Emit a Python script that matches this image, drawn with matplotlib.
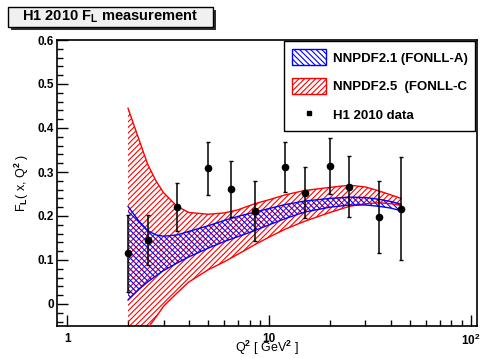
import matplotlib
matplotlib.use("Agg")
import matplotlib.pyplot as plt
from matplotlib.patches import Rectangle, Patch
from matplotlib.lines import Line2D
from matplotlib.ticker import FixedLocator, NullFormatter, MultipleLocator

# H1 2010 F_L data points
q2_data = [2.0, 2.5, 3.5, 5.0, 6.5, 8.5, 12.0, 15.0, 20.0, 25.0, 35.0, 45.0]
fl_data = [0.115, 0.145, 0.220, 0.308, 0.261, 0.211, 0.312, 0.253, 0.314, 0.267, 0.198, 0.217]
fl_err = [0.087, 0.057, 0.055, 0.060, 0.064, 0.068, 0.057, 0.058, 0.063, 0.069, 0.082, 0.117]

# Theory bands on a common Q^2 grid
q2_band = [2.0, 2.25, 2.5, 2.75, 3.0, 3.5, 4.0, 5.0, 6.0, 7.0, 8.5, 10.0,
           12.0, 15.0, 20.0, 25.0, 30.0, 35.0, 40.0, 45.0]
nn21_up = [0.222, 0.190, 0.167, 0.157, 0.154, 0.157, 0.165, 0.178, 0.190, 0.199,
           0.209, 0.217, 0.226, 0.234, 0.240, 0.243, 0.242, 0.238, 0.233, 0.227]
nn21_lo = [0.009, 0.032, 0.050, 0.064, 0.076, 0.093, 0.107, 0.127, 0.142, 0.153,
           0.167, 0.180, 0.194, 0.209, 0.220, 0.225, 0.225, 0.222, 0.218, 0.212]
nn25_up = [0.445, 0.378, 0.318, 0.280, 0.253, 0.222, 0.208, 0.204, 0.207, 0.214,
           0.228, 0.237, 0.248, 0.258, 0.265, 0.270, 0.266, 0.257, 0.248, 0.240]
nn25_lo = [-0.140, -0.090, -0.055, -0.030, -0.005, 0.025, 0.050, 0.078, 0.096, 0.113,
           0.135, 0.152, 0.170, 0.188, 0.208, 0.222, 0.228, 0.230, 0.228, 0.224]

labels = ["NNPDF2.1 (FONLL-A)", "NNPDF2.5  (FONLL-C", "H1 2010 data"]

plt.rcParams["font.family"] = ["Liberation Sans", "DejaVu Sans"]
plt.rcParams["font.weight"] = "bold"
plt.rcParams["mathtext.fontset"] = "custom"
plt.rcParams["mathtext.rm"] = "Liberation Sans:bold"
plt.rcParams["mathtext.bf"] = "Liberation Sans:bold"
plt.rcParams["mathtext.it"] = "Liberation Sans:bold"
plt.rcParams["hatch.linewidth"] = 0.8

RED_HATCH = "//////"
BLUE_HATCH = "\\\\\\\\\\\\"

fig = plt.figure(figsize=(4.83, 3.58), dpi=100)
W, H = 483, 358
ax = fig.add_axes([57 / W, 1 - 326 / H, 420 / W, 286 / H])

ax.set_xscale("log")
ax.set_xlim(0.89, 107)
ax.set_ylim(-0.05, 0.6)

# NNPDF2.5 band (red, ///)
ax.fill_between(q2_band, nn25_lo, nn25_up, facecolor="none", edgecolor="red",
                hatch=RED_HATCH, linewidth=0, zorder=2)
ax.plot(q2_band, nn25_up, color="red", lw=1.0, zorder=3)
ax.plot(q2_band, nn25_lo, color="red", lw=1.0, zorder=3)

# NNPDF2.1 band (blue, \\\)
ax.fill_between(q2_band, nn21_lo, nn21_up, facecolor="none", edgecolor="blue",
                hatch=BLUE_HATCH, linewidth=0, zorder=2)
ax.plot(q2_band, nn21_up, color="blue", lw=1.0, zorder=3)
ax.plot(q2_band, nn21_lo, color="blue", lw=1.0, zorder=3)

# Data
ax.errorbar(q2_data, fl_data, yerr=fl_err, fmt="o", color="black", ms=4.5,
            elinewidth=1.1, capsize=1.6, capthick=1.0, zorder=5)

# Axes styling
for s in ax.spines.values():
    s.set_linewidth(1.2)
ax.tick_params(axis="both", which="both", direction="in", top=False, right=False)
ax.tick_params(axis="both", which="major", length=8, width=1.0, labelsize=8.5)
ax.tick_params(axis="both", which="minor", length=4, width=1.0)
ax.tick_params(axis="y", pad=2)
ax.tick_params(axis="x", pad=5)

yt = [0, 0.1, 0.2, 0.3, 0.4, 0.5, 0.6]
ax.set_yticks(yt)
ax.set_yticklabels(["0", "0.1", "0.2", "0.3", "0.4", "0.5", "0.6"])
ax.yaxis.set_minor_locator(MultipleLocator(0.02))

ax.set_xticks([1, 10, 100])
ax.set_xticklabels(["1", "10", r"10$^{\rm 2}$"])
minors = [m * d for d in (1, 10) for m in range(2, 10)]
ax.xaxis.set_minor_locator(FixedLocator(minors))
ax.xaxis.set_minor_formatter(NullFormatter())

ax.set_xlabel(r"Q$^{\rm 2}$ [ GeV$^{\rm 2}$ ]", fontsize=9, labelpad=-6.5)
ax.set_ylabel(r"F$_{\rm L}$( x, Q$^{\rm 2}$ )", fontsize=9, labelpad=5)

# Legend
handles = [
    Patch(facecolor="none", edgecolor="blue", hatch=BLUE_HATCH, linewidth=1.0),
    Patch(facecolor="none", edgecolor="red", hatch=RED_HATCH, linewidth=1.0),
    Line2D([], [], marker="s", color="black", linestyle="none", markersize=3.5),
]
leg = ax.legend(handles, labels, loc="upper right", bbox_to_anchor=(0.996, 0.995),
                prop={"size": 9.5, "weight": "bold"}, frameon=True, fancybox=False,
                framealpha=1, edgecolor="black", borderpad=0.6, labelspacing=0.95,
                handlelength=2.6, handleheight=1.5, handletextpad=0.5,
                borderaxespad=0.0)
leg.get_frame().set_linewidth(1.0)

# Title box with shadow
fig.patches.append(Rectangle((11 / W, 1 - 30 / H), 205 / W, 20 / H,
                             transform=fig.transFigure, facecolor="#303030",
                             edgecolor="none", zorder=1))
fig.patches.append(Rectangle((8 / W, 1 - 27 / H), 205 / W, 20 / H,
                             transform=fig.transFigure, facecolor="#f0f0f0",
                             edgecolor="black", linewidth=1.0, zorder=2))
fig.text(110 / W, 1 - 17 / H, r"H1 2010 F$_{\rm L}$ measurement", ha="center",
         va="center", fontsize=10.5, fontweight="bold", zorder=3)

fig.savefig("out.png", dpi=100)
